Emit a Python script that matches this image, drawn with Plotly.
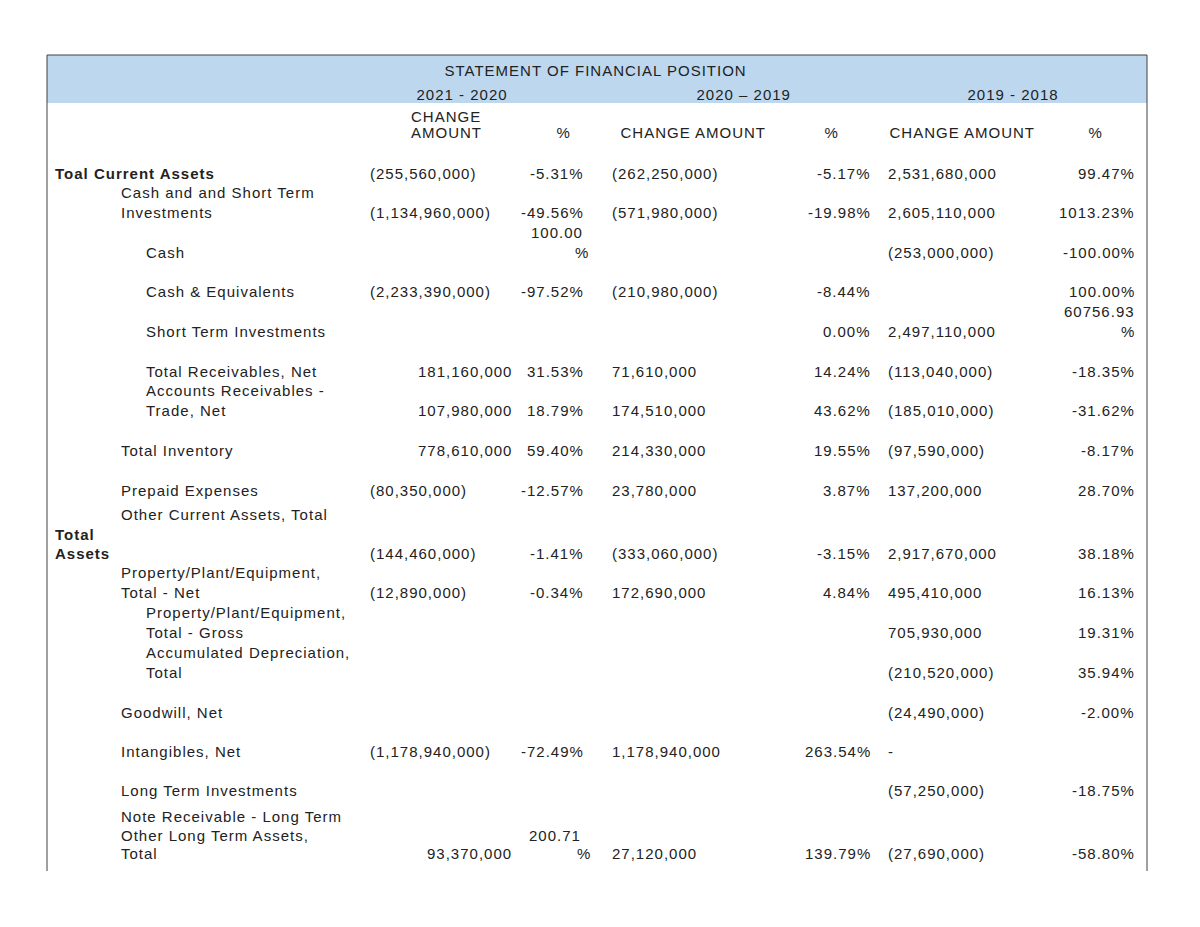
import plotly.graph_objects as go

# ---------------- data ----------------
TITLE = "STATEMENT OF FINANCIAL POSITION"
PERIODS = ["2021 - 2020", "2020 \u2013 2019", "2019 - 2018"]
COL_HEADERS = [["CHANGE", "AMOUNT"], ["%"], ["CHANGE AMOUNT"], ["%"], ["CHANGE AMOUNT"], ["%"]]

ITEMS = [
    ["Toal Current Assets"],
    ["Cash and and Short Term", "Investments"],
    ["Cash"],
    ["Cash & Equivalents"],
    ["Short Term Investments"],
    ["Total Receivables, Net"],
    ["Accounts Receivables -", "Trade, Net"],
    ["Total Inventory"],
    ["Prepaid Expenses"],
    ["Other Current Assets, Total"],
    ["Total", "Assets"],
    ["Property/Plant/Equipment,", "Total - Net"],
    ["Property/Plant/Equipment,", "Total - Gross"],
    ["Accumulated Depreciation,", "Total"],
    ["Goodwill, Net"],
    ["Intangibles, Net"],
    ["Long Term Investments"],
    ["Note Receivable - Long Term"],
    ["Other Long Term Assets,", "Total"],
]

CHG_2021_2020 = [-255560000, -1134960000, None, -2233390000, None, 181160000, 107980000,
                 778610000, -80350000, None, -144460000, -12890000, None, None, None,
                 -1178940000, None, None, 93370000]
PCT_2021_2020 = [-5.31, -49.56, 100.00, -97.52, None, 31.53, 18.79, 59.40, -12.57, None,
                 -1.41, -0.34, None, None, None, -72.49, None, None, 200.71]
CHG_2020_2019 = [-262250000, -571980000, None, -210980000, None, 71610000, 174510000,
                 214330000, 23780000, None, -333060000, 172690000, None, None, None,
                 1178940000, None, None, 27120000]
PCT_2020_2019 = [-5.17, -19.98, None, -8.44, 0.00, 14.24, 43.62, 19.55, 3.87, None,
                 -3.15, 4.84, None, None, None, 263.54, None, None, 139.79]
CHG_2019_2018 = [2531680000, 2605110000, -253000000, None, 2497110000, -113040000,
                 -185010000, -97590000, 137200000, None, 2917670000, 495410000, 705930000,
                 -210520000, -24490000, 0, -57250000, None, -27690000]
PCT_2019_2018 = [99.47, 1013.23, -100.00, 100.00, 60756.93, -18.35, -31.62, -8.17, 28.70,
                 None, 38.18, 16.13, 19.31, 35.94, -2.00, None, -18.75, None, -58.80]

# ---------------- layout / style ----------------
PAGE_OFF = 8                      # default body margin of the html page
W, H = 1200 - PAGE_OFF, 927 - PAGE_OFF
BOX_L, BOX_R, BOX_T, BOX_B = 47, 1147, 55, 871
BAND_B = 103
FONT = "Liberation Sans, Arial, sans-serif"
FS = 15
TXT = "#222222"
BAND = "#BDD7EE"
LETTER_SPACING = "1px"

LEVEL = [0, 1, 2, 2, 2, 2, 2, 1, 1, 1, 0, 1, 2, 2, 1, 1, 1, 1, 1]
LEVEL_X = {0: 55, 1: 121, 2: 146}
BOLD_ROWS = {0, 10}
ROW_Y = [173, 212, 252, 291, 331, 371, 410, 450, 490, 514, 553, 592, 632, 672, 712,
         751, 790, 816, 853]
LINE_GAP = [19.5] * len(ROW_Y)
LINE_GAP[10] = 19
LINE_GAP[18] = 17.5
# wrapped percentage cells: (pct column, row) -> (x shift of number line, x shift of "%")
WRAPPED_PCT = {(0, 2): (-1, 5), (2, 4): (0, 0), (0, 18): (-3, 7)}

HEAD_Y = {"title": 70, "period": 94, "l1": 116, "l2": 132}
TITLE_X = 595
PERIOD_X = [462, 743, 1013]
HEADER_X = [446, 563, 693, 831, 962, 1095]

AMT_X = [(("left", 370), ("right", 512)),   # (negatives / dash, positives)
         (("left", 612), ("left", 612)),
         (("left", 888), ("left", 888))]
PCT_RIGHT = [584, 871, 1135]

fig = go.Figure()
ann = []


def add(text, x, y, anchor="left", bold=False):
    ann.append(dict(text=f"<b>{text}</b>" if bold else text, x=x, y=y, xref="x", yref="y",
                    xanchor=anchor, align=anchor, yanchor="middle", showarrow=False,
                    borderpad=0, borderwidth=0,
                    font=dict(family=FONT, size=FS, color=TXT)))


def fmt_amt(v):
    if v == 0:
        return "-"
    s = f"{abs(v):,.0f}"
    return f"({s})" if v < 0 else s


# header
add(TITLE, TITLE_X, HEAD_Y["title"], "center")
for p, x in zip(PERIODS, PERIOD_X):
    add(p, x, HEAD_Y["period"], "center")
for lines, x in zip(COL_HEADERS, HEADER_X):
    ys = [HEAD_Y["l2"]] if len(lines) == 1 else [HEAD_Y["l1"], HEAD_Y["l2"]]
    for t, y in zip(lines, ys):
        add(t, x, y, "center")

# row labels
for i, lines in enumerate(ITEMS):
    n = len(lines)
    for k, t in enumerate(lines):
        y = ROW_Y[i] - (n - 1 - k) * LINE_GAP[i]
        add(t, LEVEL_X[LEVEL[i]], y, "left", bold=i in BOLD_ROWS)

# amounts
for vals, (neg, pos) in zip([CHG_2021_2020, CHG_2020_2019, CHG_2019_2018], AMT_X):
    for i, v in enumerate(vals):
        if v is None:
            continue
        anchor, x = neg if v <= 0 else pos
        add(fmt_amt(v), x, ROW_Y[i], anchor)

# percentages
for c, (vals, x) in enumerate(zip([PCT_2021_2020, PCT_2020_2019, PCT_2019_2018], PCT_RIGHT)):
    for i, v in enumerate(vals):
        if v is None:
            continue
        if (c, i) in WRAPPED_PCT:
            dn, dp = WRAPPED_PCT[(c, i)]
            add(f"{v:.2f}", x + dn, ROW_Y[i] - LINE_GAP[i], "right")
            add("%", x + dp, ROW_Y[i], "right")
        else:
            add(f"{v:.2f}%", x, ROW_Y[i], "right")

LINE = dict(color="#404040", width=1)
shapes = [
    dict(type="rect", xref="x", yref="y", x0=BOX_L, x1=BOX_R, y0=BOX_T, y1=BAND_B,
         fillcolor=BAND, line=dict(width=0), layer="below"),
    dict(type="line", xref="x", yref="y", x0=BOX_L, x1=BOX_R, y0=BOX_T, y1=BOX_T, line=LINE),
    dict(type="line", xref="x", yref="y", x0=BOX_L, x1=BOX_L, y0=BOX_T, y1=BOX_B, line=LINE),
    dict(type="line", xref="x", yref="y", x0=BOX_R, x1=BOX_R, y0=BOX_T, y1=BOX_B, line=LINE),
]

fig.update_layout(
    width=W, height=H, margin=dict(l=0, r=0, t=0, b=0),
    paper_bgcolor="white", plot_bgcolor="white", showlegend=False,
    xaxis=dict(range=[PAGE_OFF, PAGE_OFF + W], visible=False, fixedrange=True),
    yaxis=dict(range=[PAGE_OFF + H, PAGE_OFF], visible=False, fixedrange=True),
    annotations=ann, shapes=shapes,
)

POST = ("document.querySelectorAll('text.annotation-text').forEach("
        "function(t){t.style.letterSpacing='%s';});" % LETTER_SPACING)
fig.write_html("out.html", config={"displayModeBar": False}, post_script=POST)
